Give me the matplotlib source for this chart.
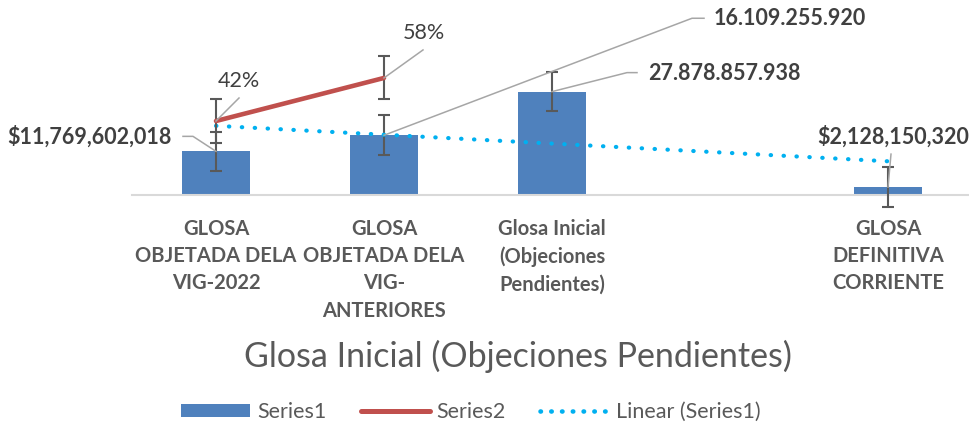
import numpy as np
import matplotlib
matplotlib.use("Agg")
import matplotlib.pyplot as plt
from matplotlib.lines import Line2D
from matplotlib.patches import Patch
from matplotlib.transforms import IdentityTransform

plt.rcParams['font.family'] = ['Lato', 'DejaVu Sans']

categories = ["GLOSA\nOBJETADA DELA\nVIG-2022",
              "GLOSA\nOBJETADA DELA\nVIG-\nANTERIORES",
              "Glosa Inicial\n(Objeciones\nPendientes)",
              "",
              "GLOSA\nDEFINITIVA\nCORRIENTE"]
series1 = [11769602018, 16109255920, 27878857938, np.nan, 2128150320]
series1_labels = ["$11,769,602,018", "16.109.255.920", "27.878.857.938", "", "$2,128,150,320"]
series2 = [0.42, 0.58]
series2_labels = ["42%", "58%"]

BLUE = "#4F81BD"
RED = "#C0504D"
CYAN = "#00B0F0"
ERR = "#595959"
LEAD = "#A6A6A6"
TXT = "#404040"
GRAY = "#595959"

fig = plt.figure(figsize=(9.7, 4.25), dpi=100)
ax = fig.add_axes([132 / 970, 230 / 425, 840 / 970, 155 / 425])
ax2 = ax.twinx()

x = np.arange(1, len(categories) + 1)
v1 = np.array(series1, dtype=float)
ok = ~np.isnan(v1)
se1 = np.std(v1[ok], ddof=1) / np.sqrt(ok.sum())

ax.bar(x[ok], v1[ok], width=0.4, color=BLUE, zorder=2)
eb1 = ax.errorbar(x[ok], v1[ok], yerr=se1, fmt='none', ecolor=ERR, elinewidth=1.5,
                  capsize=4, capthick=1.5, zorder=3)

# linear trendline of series1
k, b = np.polyfit(x[ok], v1[ok], 1)
xt = np.array([x[ok][0], x[ok][-1]])
ax.plot(xt, k * xt + b, color=CYAN, lw=3.0, linestyle=(0, (0.1, 3.0)),
        dash_capstyle='round', zorder=4)

# series2 on secondary axis
x2 = x[:len(series2)]
v2 = np.array(series2)
se2 = np.std(v2, ddof=1) / np.sqrt(len(v2))
ax2.plot(x2, v2, color=RED, lw=3.3, solid_capstyle='round', zorder=3)
eb2 = ax2.errorbar(x2, v2, yerr=se2, fmt='none', ecolor=ERR, elinewidth=1.5,
                   capsize=4, capthick=1.5, zorder=2)

for eb in (eb1, eb2):
    for art in list(eb.lines[1]) + list(eb.lines[2]):
        art.set_clip_on(False)

ax.set_xlim(0.5, len(categories) + 0.5)
ax.set_ylim(0, 41.8e9)
ax2.set_ylim(0.145, 0.721)

for a in (ax, ax2):
    for s in ("left", "right", "top"):
        a.spines[s].set_visible(False)
    a.set_yticks([])
ax2.spines["bottom"].set_visible(False)
ax.spines["bottom"].set_color("#D9D9D9")
ax.spines["bottom"].set_linewidth(1.5)
ax.set_xticks(x)
ax.set_xticklabels(categories, fontsize=14.5, fontweight='bold', color=GRAY)
ax.tick_params(axis='x', length=0, pad=17)
for t in ax.get_xticklabels():
    t.set_linespacing(1.46)


def leader(axis, xv, yv, text, path, toff, ha, weight):
    px, py = axis.transData.transform((xv, yv))
    xs = [px] + [px + dx for dx, dy in path]
    ys = [py] + [py + dy for dx, dy in path]
    fig.add_artist(Line2D(xs, ys, transform=IdentityTransform(), color=LEAD, lw=1.1))
    fig.text(px + toff[0], py + toff[1], text, transform=IdentityTransform(),
             ha=ha, va='center', fontsize=15.5, fontweight=weight, color=TXT)


# data labels with leader lines (pixel offsets)
leader(ax, x[0], v1[0], series1_labels[0], [(-23, 15), (-33, 15)], (-44, 15), 'right', 'bold')
leader(ax, x[1], v1[1], series1_labels[1], [(308, 117), (320, 117)], (330, 117), 'left', 'bold')
leader(ax, x[2], v1[2], series1_labels[2], [(75, 19), (85, 19)], (96, 18), 'left', 'bold')
leader(ax, x[4], v1[4], series1_labels[4], [(3, 33)], (5, 51), 'center', 'bold')
leader(ax2, x2[0], v2[0], series2_labels[0], [(23, 23)], (23, 40), 'center', 'normal')
leader(ax2, x2[1], v2[1], series2_labels[1], [(39, 28)], (40, 45), 'center', 'normal')

fig.text(518 / 970, 1 - 356 / 425, "Glosa Inicial (Objeciones Pendientes)",
         ha='center', va='center', fontsize=24.5, color=GRAY)

handles = [Patch(facecolor=BLUE, edgecolor='none'),
           Line2D([], [], color=RED, lw=3.6, solid_capstyle='round'),
           Line2D([], [], color=CYAN, lw=3.3, linestyle=(0, (0.1, 2.25)), dash_capstyle='round')]
fig.legend(handles, ["Series1", "Series2", "Linear (Series1)"], loc='center',
           bbox_to_anchor=(471 / 970, 13 / 425), ncol=3, frameon=False, fontsize=15.5,
           labelcolor=GRAY, handlelength=3.2, handleheight=0.6, handletextpad=0.33,
           columnspacing=1.6)

fig.savefig("out.png", dpi=100)
